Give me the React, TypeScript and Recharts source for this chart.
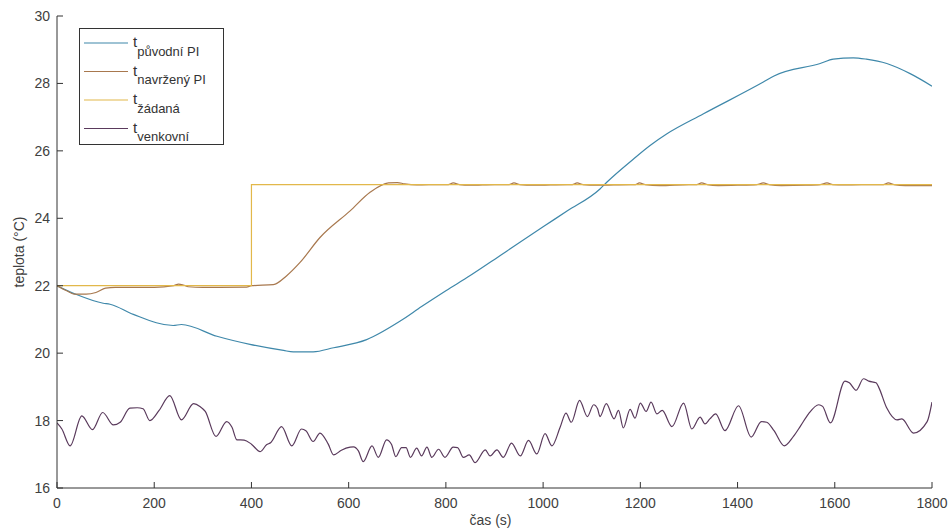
import { LineChart, Line, XAxis, YAxis, Legend, Label } from 'recharts'

const FONT = '"Liberation Sans", Arial, Helvetica, sans-serif'

const xTicks = [0, 200, 400, 600, 800, 1000, 1200, 1400, 1600, 1800]
const yTicks = [16, 18, 20, 22, 24, 26, 28, 30]

// t původní PI
const blueT = [0, 40, 95, 109, 157, 239, 256, 329, 397, 466, 486, 527, 569, 637, 706, 750, 800, 850, 900, 950, 1000, 1050, 1117, 1131, 1186, 1220, 1254, 1330, 1453, 1475, 1570, 1597, 1638, 1665, 1707, 1755, 1800]
const blueV = [22.0, 21.74, 21.48, 21.45, 21.15, 20.82, 20.85, 20.5, 20.26, 20.08, 20.04, 20.04, 20.16, 20.4, 20.95, 21.38, 21.85, 22.3, 22.78, 23.27, 23.75, 24.22, 24.87, 25.07, 25.76, 26.16, 26.5, 27.1, 28.04, 28.22, 28.59, 28.72, 28.76, 28.72, 28.59, 28.29, 27.92]

// t navržený PI
const brownT = [0, 20, 35, 60, 80, 100, 120, 200, 240, 250, 260, 270, 300, 390, 400, 445, 472, 500, 541, 603, 644, 682, 700, 715, 740, 790, 805, 815, 828, 850, 900, 930, 940, 952, 980, 1050, 1060, 1070, 1082, 1110, 1180, 1190, 1198, 1210, 1240, 1300, 1316, 1326, 1338, 1360, 1400, 1440, 1453, 1465, 1490, 1540, 1570, 1584, 1596, 1620, 1690, 1700, 1710, 1722, 1745, 1800]
const brownV = [22.0, 21.85, 21.75, 21.75, 21.8, 21.93, 21.95, 21.95, 22.0, 22.05, 22.02, 21.97, 21.95, 21.96, 22.0, 22.03, 22.29, 22.69, 23.43, 24.22, 24.77, 25.05, 25.06, 25.02, 24.99, 25.0, 25.0, 25.05, 25.0, 24.98, 25.0, 25.0, 25.05, 25.0, 24.98, 25.0, 25.0, 25.05, 25.0, 24.98, 25.0, 25.0, 25.05, 25.0, 24.97, 25.0, 25.0, 25.05, 25.0, 24.97, 24.98, 25.0, 25.05, 25.0, 24.97, 24.98, 25.0, 25.05, 25.0, 24.99, 25.0, 25.0, 25.05, 25.0, 24.97, 24.97]

// t žádaná
const yellowT = [0, 400, 400, 1800]
const yellowV = [22, 22, 25, 25]

// t venkovní
const purpleT = [0, 10, 27, 51, 73, 94, 116, 130, 150, 165, 177, 191, 210, 232, 256, 281, 294, 305, 327, 349, 360, 370, 385, 400, 418, 431, 440, 462, 483, 503, 512, 527, 541, 558, 569, 585, 603, 610, 620, 630, 648, 661, 678, 688, 697, 709, 718, 727, 740, 750, 761, 771, 785, 798, 815, 824, 836, 848, 860, 881, 891, 905, 918, 935, 953, 970, 987, 1004, 1018, 1035, 1047, 1058, 1075, 1091, 1104, 1112, 1117, 1130, 1146, 1155, 1165, 1179, 1189, 1200, 1212, 1222, 1234, 1245, 1265, 1289, 1306, 1323, 1333, 1343, 1355, 1374, 1402, 1428, 1449, 1460, 1475, 1496, 1515, 1530, 1546, 1567, 1575, 1591, 1621, 1630, 1644, 1659, 1670, 1685, 1690, 1707, 1728, 1738, 1762, 1790, 1800]
const purpleV = [17.93, 17.75, 17.25, 18.14, 17.73, 18.24, 17.87, 17.95, 18.37, 18.38, 18.35, 18.0, 18.3, 18.74, 18.02, 18.5, 18.42, 18.27, 17.53, 17.97, 17.8, 17.43, 17.42, 17.3, 17.08, 17.28, 17.35, 17.82, 17.25, 17.75, 17.7, 17.38, 17.63, 17.3, 16.98, 17.12, 17.21, 17.22, 17.1, 16.78, 17.25, 16.91, 17.43, 17.3, 16.93, 17.2, 17.2, 16.91, 17.18, 16.95, 17.21, 16.91, 17.15, 16.91, 17.21, 17.2, 16.91, 16.98, 16.75, 17.13, 16.95, 17.13, 16.91, 17.33, 16.95, 17.41, 17.01, 17.61, 17.25, 17.8, 18.22, 17.95, 18.6, 18.12, 18.47, 18.35, 18.12, 18.5, 18.05, 18.3, 17.78, 18.33, 18.07, 18.52, 18.27, 18.55, 18.2, 18.3, 17.82, 18.52, 17.75, 18.1, 17.9, 18.05, 18.2, 17.7, 18.44, 17.51, 17.97, 17.95, 17.7, 17.25, 17.53, 17.85, 18.2, 18.47, 18.42, 17.93, 19.17, 19.12, 18.9, 19.24, 19.17, 19.12, 19.0, 18.37, 18.02, 18.05, 17.63, 17.97, 18.55]

const toPoints = (t: number[], v: number[]) => t.map((x, i) => ({ t: x, v: v[i] }))

const SERIES = [
  { key: 'puvodni', sub: 'původní PI', color: '#3f88aa', curve: 'monotone', data: toPoints(blueT, blueV) },
  { key: 'navrzeny', sub: 'navržený PI', color: '#a8784e', curve: 'monotone', data: toPoints(brownT, brownV) },
  { key: 'zadana', sub: 'žádaná', color: '#e2b84a', curve: 'linear', data: toPoints(yellowT, yellowV) },
  { key: 'venkovni', sub: 'venkovní', color: '#5a3a5c', curve: 'monotone', data: toPoints(purpleT, purpleV) },
] as const

function LegendBox() {
  return (
    <svg width={145} height={117} style={{ display: 'block' }}>
      <rect x={0.5} y={0.5} width={144} height={116} fill="#fff" stroke="#333" />
      {SERIES.map((s, i) => {
        const y = 15 + i * 28.5
        return (
          <g key={s.key}>
            <line x1={5} x2={49} y1={y} y2={y} stroke={s.color} strokeWidth={1.2} />
            <text x={54} y={y + 4} fontSize={15} fill="#333" fontFamily={FONT}>
              t<tspan dy={8.5} fontSize={13}>{s.sub}</tspan>
            </text>
          </g>
        )
      })}
    </svg>
  )
}

const tickStyle = { fill: '#404040', fontSize: 14, fontFamily: FONT }

export default function App() {
  return (
    <div style={{ position: 'absolute', left: 0, top: 0, background: '#fff' }}>
      <LineChart width={951} height={532} margin={{ top: 16, right: 19, bottom: 0, left: 0 }}>
        <XAxis
          dataKey="t"
          type="number"
          domain={[0, 1800]}
          ticks={xTicks}
          allowDataOverflow
          height={44}
          stroke="#333"
          tickSize={-6}
          tickMargin={16}
          tick={tickStyle}
        >
          <Label
            content={({ viewBox }: any) => (
              <text x={viewBox.x + viewBox.width / 2 - 4} y={viewBox.y + 37} textAnchor="middle" fontSize={14} fill="#404040" fontFamily={FONT}>
                čas (s)
              </text>
            )}
          />
        </XAxis>
        <XAxis xAxisId="top" orientation="top" type="number" domain={[0, 1800]} ticks={xTicks} height={0} stroke="#333" tickSize={-6} tick={false} />
        <YAxis
          type="number"
          domain={[16, 30]}
          ticks={yTicks}
          allowDataOverflow
          width={57}
          stroke="#333"
          tickSize={-6}
          tickMargin={13}
          tick={tickStyle}
        >
          <Label
            content={({ viewBox }: any) => {
              const cx = viewBox.x + 19
              const cy = viewBox.y + viewBox.height / 2
              return (
                <text x={cx} y={cy} transform={`rotate(-90 ${cx} ${cy})`} textAnchor="middle" dominantBaseline="central" fontSize={14} fill="#404040" fontFamily={FONT}>
                  teplota (°C)
                </text>
              )
            }}
          />
        </YAxis>
        <YAxis yAxisId="right" orientation="right" type="number" domain={[16, 30]} ticks={yTicks} width={0} stroke="#333" tickSize={-6} tick={false} />
        {SERIES.map((s) => (
          <Line
            key={s.key}
            data={s.data}
            dataKey="v"
            type={s.curve}
            stroke={s.color}
            strokeWidth={1.2}
            dot={false}
            activeDot={false}
            isAnimationActive={false}
          />
        ))}
        <Legend
          content={<LegendBox />}
          layout="vertical"
          align="center"
          verticalAlign="middle"
          wrapperStyle={{ left: 79, top: 28, width: 145, height: 117 }}
        />
      </LineChart>
    </div>
  )
}
